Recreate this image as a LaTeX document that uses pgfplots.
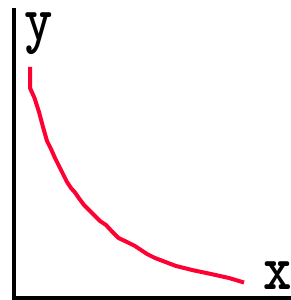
\documentclass[border=0pt]{standalone}
\usepackage{pgfplots}
\pgfplotsset{compat=1.18}
\definecolor{curvered}{RGB}{255,0,51}
\begin{document}
\begin{tikzpicture}[x=1bp,y=1bp]
\path[use as bounding box] (0,0) rectangle (291,300);
\begin{axis}[
  at={(14bp,1.5bp)}, anchor=south west,
  scale only axis, width=277bp, height=288.5bp,
  xmin=14, xmax=291, ymin=1.5, ymax=290,
  axis x line=bottom, axis y line=left,
  axis line style={-, line width=4bp, black, line cap=rect},
  xtick=\empty, ytick=\empty,
  clip=false,
]
\addplot[curvered, line width=4bp, line join=miter] coordinates {
(30,233) (30,212) (34.5,202) (39,188) (43,173) (47,159) (51,151) (55,142)
(59,134) (63,126) (67,118) (71,112) (75,107.5) (79.5,101) (84,95) (88,91)
(92,87) (96,83) (100,79) (106,75) (112,68.5) (118.5,62) (127,58) (135,54)
(141,50) (147,46) (155,42) (165.5,38) (176,34) (192,30) (211,26) (229,22)
(244,17.5)
};
\node[anchor=base, inner sep=0pt, xscale=0.85] at (axis cs:38.5,259) {\fontsize{64}{64}\selectfont\ttfamily\bfseries y};
\node[anchor=base, inner sep=0pt, xscale=0.85] at (axis cs:278,11) {\fontsize{64}{64}\selectfont\ttfamily\bfseries x};
\end{axis}
\end{tikzpicture}
\end{document}
